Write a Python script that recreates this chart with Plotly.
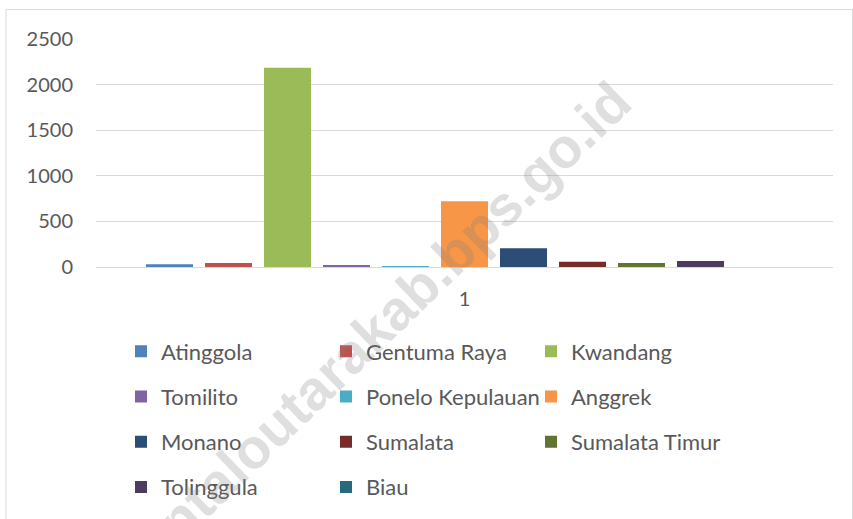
import plotly.graph_objects as go

category = ["1"]
districts = ["Atinggola", "Gentuma Raya", "Kwandang", "Tomilito", "Ponelo Kepulauan",
             "Anggrek", "Monano", "Sumalata", "Sumalata Timur", "Tolinggula", "Biau"]
values = [30, 45, 2185, 20, 8, 720, 205, 58, 44, 65, 0]
colors = ["#4F81BD", "#C0504D", "#9BBB59", "#8064A2", "#4BACC6", "#F79646",
          "#2C4D75", "#772C2A", "#5F7530", "#4D3B62", "#276A7C"]
legend_cols = ["legend", "legend2", "legend3"]
y_ticks = [0, 500, 1000, 1500, 2000, 2500]
watermark = "gorontaloutarakab.bps.go.id"

W, H = 853, 519
L, R, T, B = 96, 833, 39, 267.5
FONT = "Lato"
TXT = "#595959"

fig = go.Figure()
for i, (name, v, c) in enumerate(zip(districts, values, colors)):
    fig.add_trace(go.Bar(
        x=category, y=[v], name=name, marker=dict(color=c, line=dict(width=0)),
        legend=legend_cols[i % 3], legendgroup=name,
    ))

def px2paper_x(px):
    return (px - L) / (R - L)

def px2paper_y(py):
    return (B - py) / (B - T)

legend_common = dict(
    orientation="v", xref="container", yref="container", xanchor="left", yanchor="top",
    font=dict(family=FONT, size=22, color=TXT), bgcolor="rgba(0,0,0,0)",
    borderwidth=0, tracegroupgap=13.6, itemwidth=30, traceorder="grouped",
)
col_x = [121, 326, 531]
top_y = 330.5

fig.update_layout(
    width=W, height=H,
    margin=dict(l=L, r=W - R, t=T, b=H - B, pad=0, autoexpand=False),
    paper_bgcolor="white", plot_bgcolor="white",
    barmode="group", bargap=0.1194, bargroupgap=0.203,
    font=dict(family=FONT, size=20, color=TXT),
    showlegend=True,
    legend=dict(legend_common, x=col_x[0] / W, y=1 - top_y / H),
    legend2=dict(legend_common, x=col_x[1] / W, y=1 - top_y / H),
    legend3=dict(legend_common, x=col_x[2] / W, y=1 - top_y / H),
    xaxis=dict(showgrid=False, showline=True, linecolor="#D9D9D9", linewidth=1,
               ticks="", ticklabelstandoff=14, automargin=False,
               tickfont=dict(family=FONT, size=20, color=TXT)),
    yaxis=dict(range=[0, 2500], tickvals=y_ticks, ticktext=[str(t) for t in y_ticks],
               showgrid=True, gridcolor="#D9D9D9", gridwidth=1, zeroline=False,
               showline=False, ticks="", ticklabelstandoff=22, automargin=False,
               tickfont=dict(family=FONT, size=20, color=TXT)),
    shapes=[dict(type="rect", xref="paper", yref="paper",
                 x0=px2paper_x(6), x1=px2paper_x(852.5),
                 y0=px2paper_y(540), y1=px2paper_y(9.5),
                 line=dict(color="#D9D9D9", width=1), fillcolor="rgba(0,0,0,0)",
                 layer="below")],
    annotations=[dict(text=watermark, xref="paper", yref="paper",
                      x=px2paper_x(349), y=px2paper_y(355), xanchor="center", yanchor="middle",
                      showarrow=False, textangle=-44,
                      font=dict(family="Liberation Sans", size=56, color="rgba(128,128,128,0.25)",
                                weight="bold"))],
)

fig.write_html("out.html", config={"displayModeBar": False},
               post_script="document.body.style.margin='0px';")
